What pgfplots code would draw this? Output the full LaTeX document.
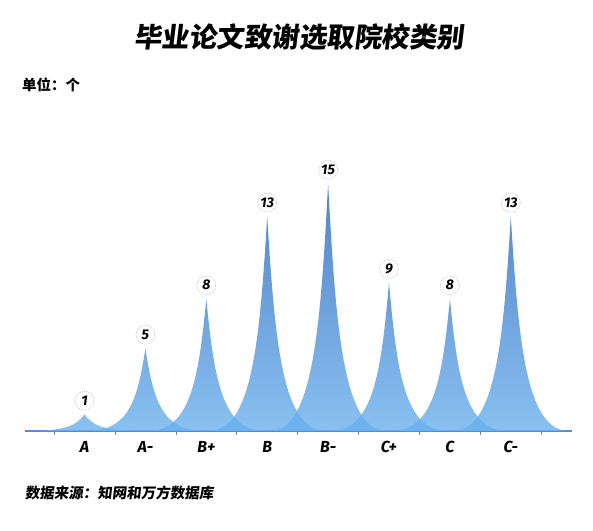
\documentclass[border=0pt]{standalone}
\usepackage{fontspec}
\setmainfont{Fira Sans}
\newfontfamily\cjk{Noto Sans CJK SC}
\newfontfamily\cjkslant[FakeSlant=0.12]{Noto Sans CJK SC}
\usepackage{pgfplots}
\usepackage{pgfplotstable}
\pgfplotsset{compat=1.18}

\definecolor{spikelight}{HTML}{6AB1EE}
\definecolor{spikedark}{HTML}{2A64B8}
\definecolor{axisblue}{HTML}{5C88D8}

% counts per grade of university
\pgfplotstableread{
pos label val
0 A  1
1 A- 5
2 B+ 8
3 B  13
4 B- 15
5 C+ 9
6 C  8
7 C- 13
}\grades

\pgfdeclareplotmark{empty}{}

% cusp drawn below the current point: #1 height (bp), #2 top colour, #3 shading name
\newcommand\spike[3]{%
  \pgfmathsetmacro\spkh{#1}%
  \pgfmathsetmacro\spkc{0.6*#1}%
  \colorlet{spktop}{#2}%
  \pgfdeclareverticalshading{#3}{100bp}{color(0bp)=(spikelight); color(25bp)=(spikelight); color(75bp)=(spktop); color(100bp)=(spktop)}%
  \pgfpathmoveto{\pgfpointorigin}%
  \pgfpathcurveto{\pgfpoint{7.8bp}{-\spkc bp}}{\pgfpoint{15.6bp}{-\spkh bp}}{\pgfpoint{58.5bp}{-\spkh bp}}%
  \pgfpathlineto{\pgfpoint{-58.5bp}{-\spkh bp}}%
  \pgfpathcurveto{\pgfpoint{-15.6bp}{-\spkh bp}}{\pgfpoint{-7.8bp}{-\spkc bp}}{\pgfpointorigin}%
  \pgfpathclose
  \pgfsetfillopacity{0.8}%
  \pgfshadepath{#3}{0}%
  \pgfusepath{discard}%
}

\begin{document}
\begin{tikzpicture}[x=1bp, y=1bp]
\useasboundingbox (0,0) rectangle (593,531);
\begin{axis}[
  at={(25bp,100bp)}, anchor=south west,
  x=60.9bp, y=16.5bp,
  xmin=-0.977, xmax=8.005, ymin=0, ymax=19,
  axis y line=none, axis x line=bottom,
  x axis line style={draw=axisblue, line width=1.2bp, -},
  xtick={0,...,7},
  xticklabels from table={\grades}{label},
  major tick length=0pt,
  minor xtick={-0.5,0.5,...,7.5},
  minor tick length=4bp,
  tick align=outside,
  minor tick style={draw=gray, line width=0.6bp},
  xticklabel style={font=\fontsize{16bp}{16bp}\selectfont\bfseries\itshape, yshift=-7bp},
  clip=false,
]
% one cusp per grade, height from the value, drawn at the data point
\addplot[
  scatter, only marks, mark=empty,
  visualization depends on={\thisrow{val} \as \val},
  visualization depends on={value \thisrow{val} \as \rawval},
  scatter/@pre marker code/.code={
    \pgfmathsetmacro\mixp{100*\val/15}
    \spike{\val*16.5}{spikedark!\mixp!spikelight}{spk\rawval}
  },
  scatter/@post marker code/.code={},
] table[x=pos, y=val] {\grades};

% value labels in dashed circles
\addplot[
  only marks, mark=empty,
  point meta=explicit symbolic,
  nodes near coords,
  every node near coord/.style={
    circle, draw=gray!55, dash pattern=on 1.2bp off 1.2bp, line width=0.5bp,
    minimum size=19bp, inner sep=0pt, anchor=south, yshift=4bp, text=black,
    font=\fontsize{14bp}{14bp}\selectfont\bfseries\itshape},
] table[x=pos, y=val, meta=val] {\grades};
\end{axis}

\node at (299,494) {\cjkslant\bfseries\fontsize{27.5bp}{30bp}\selectfont 毕业论文致谢选取院校类别};
\node[anchor=west, inner sep=0pt] at (22,446) {\cjk\bfseries\fontsize{14.5bp}{16bp}\selectfont 单位：个};
\node[anchor=west, inner sep=0pt] at (25,38) {\cjkslant\bfseries\fontsize{14.5bp}{16bp}\selectfont 数据来源：知网和万方数据库};
\end{tikzpicture}
\end{document}
